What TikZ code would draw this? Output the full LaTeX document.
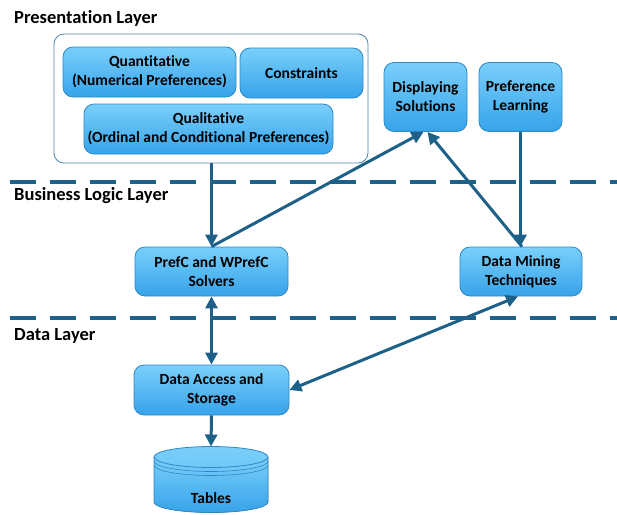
\documentclass[tikz,border=0pt]{standalone}
\usepackage{fontspec}
\setmainfont{Carlito}[Ligatures=NoCommon]
\usetikzlibrary{arrows.meta}
\definecolor{boxtop}{HTML}{7ACFFA}
\definecolor{boxbot}{HTML}{36A3EA}
\definecolor{boxline}{HTML}{2E88C4}
\definecolor{arr}{HTML}{1D6189}
\definecolor{outer}{HTML}{4F86AE}
\tikzset{
  bluebox/.style={draw=boxline, line width=0.8pt, top color=boxtop, bottom color=boxbot,
     rounded corners=10pt, align=center, inner sep=0pt, font=\bfseries\fontsize{15.5}{19}\selectfont},
  layerlabel/.style={anchor=west, inner sep=0pt, font=\bfseries\fontsize{18.5}{22}\selectfont},
  conn/.style={draw=arr, line width=3pt, -{Triangle[length=12pt,width=12pt]}},
  biconn/.style={draw=arr, line width=3pt, {Triangle[length=12pt,width=12pt]}-{Triangle[length=12pt,width=12pt]}},
  layerline/.style={draw=arr, line width=4pt, dash pattern=on 26pt off 14pt},
}
\begin{document}
\begin{tikzpicture}[x=1pt,y=-1pt]
\useasboundingbox (0,0) rectangle (617,514);
% layer labels
\node[layerlabel] (pl) at (14,18) {Presentation Layer};
\node[layerlabel] (bl) at (14,196) {Business Logic Layer};
\node[layerlabel] (dl) at (14,336) {Data Layer};
% dashed lines
\coordinate (l1a) at (10,182);
\coordinate (l1b) at (617,182);
\coordinate (l2a) at (10,318);
\coordinate (l2b) at (617,318);
\draw[layerline] (l1a) -- (l1b);
\draw[layerline] (l2a) -- (l2b);
% outer presentation box
\node[draw=outer, line width=0.8pt, rounded corners=10pt, fill=white, minimum width=314pt, minimum height=129pt, inner sep=0pt] (outerbox) at (211,98.5) {};
\node[bluebox, minimum width=173pt, minimum height=50pt] (quant) at (149.5,72) {Quantitative\\(Numerical Preferences)};
\node[bluebox, minimum width=123pt, minimum height=50pt] (cons) at (301.5,73) {Constraints};
\node[bluebox, minimum width=249pt, minimum height=50pt] (qual) at (208.5,129) {Qualitative\\(Ordinal and Conditional Preferences)};
\node[bluebox, minimum width=83pt, minimum height=69pt] (disp) at (425.5,97) {Displaying\\Solutions};
\node[bluebox, minimum width=83pt, minimum height=69pt] (plearn) at (520.5,97) {Preference\\Learning};
\node[bluebox, minimum width=153pt, minimum height=49pt] (prefc) at (211.5,271.5) {PrefC and WPrefC\\Solvers};
\node[bluebox, minimum width=122pt, minimum height=49pt] (dm) at (521,271.5) {Data Mining\\Techniques};
\node[bluebox, minimum width=155pt, minimum height=50pt] (da) at (211.5,390) {Data Access and\\Storage};
% cylinder
\fill[top color=boxtop, bottom color=boxbot] (154,457) -- (154,502) arc[start angle=180, end angle=0, x radius=57, y radius=10.5] -- (268,457) -- cycle;
\draw[boxline, line width=0.8pt] (154,457) -- (154,502) arc[start angle=180, end angle=0, x radius=57, y radius=10.5] -- (268,457);
\draw[boxline, line width=0.8pt, top color=boxtop, bottom color=boxtop!85!boxbot] (211,457) ellipse[x radius=57, y radius=10.5];
\draw[boxline, line width=0.6pt] (154,461) arc[start angle=180, end angle=0, x radius=57, y radius=10.5];
\draw[boxline, line width=0.6pt] (154,465) arc[start angle=180, end angle=0, x radius=57, y radius=10.5];
\node[font=\bfseries\fontsize{15.5}{18}\selectfont, inner sep=0pt] (tables) at (211,498) {Tables};
\coordinate (tabtop) at (211,446.5);
% connectors
\draw[conn] (outerbox.south -| prefc.north) -- (prefc.north);
\draw[conn] (prefc.north) -- ([xshift=-2pt]disp.south);
\draw[conn] ([xshift=1pt]dm.north) -- ([xshift=2pt]disp.south);
\draw[conn] (plearn.south) -- (plearn.south |- dm.north);
\draw[biconn] (prefc.south) -- (da.north);
\draw[biconn] ([xshift=-3pt]dm.south) -- (da.east);
\draw[conn] (da.south) -- (tabtop);
\end{tikzpicture}
\end{document}
